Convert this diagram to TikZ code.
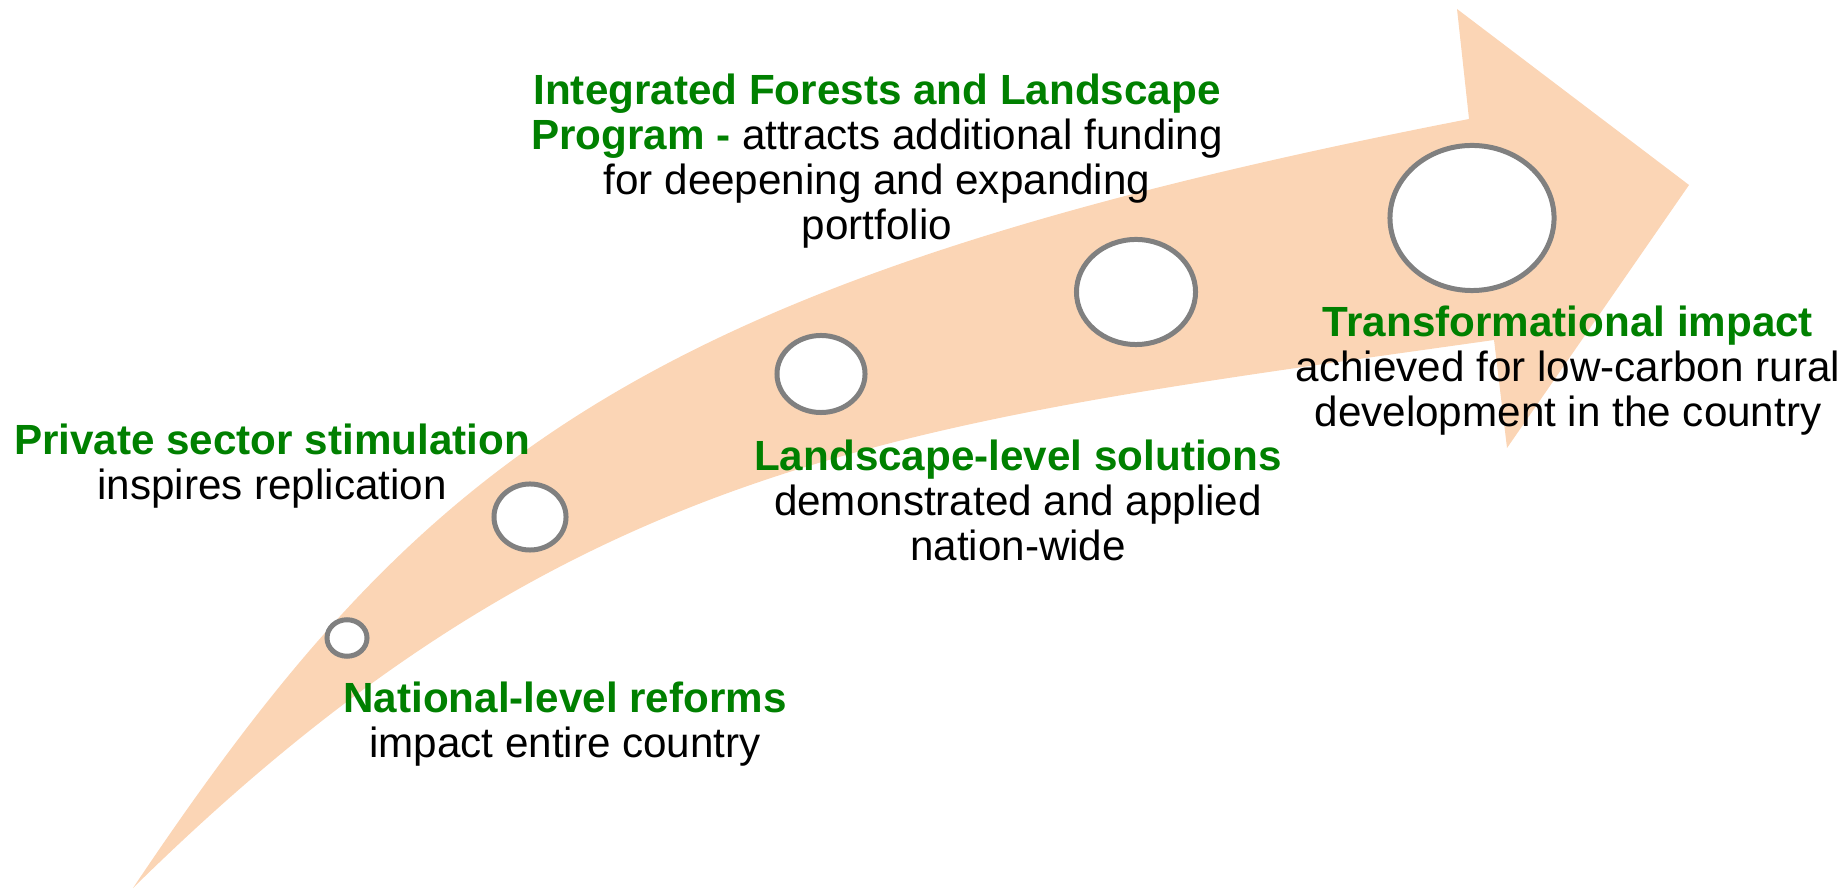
\documentclass[tikz,border=0pt]{standalone}
\usepackage{fontspec}
\setmainfont{Liberation Sans}
\usetikzlibrary{shapes.geometric}

\definecolor{peach}{HTML}{FBD5B5}
\definecolor{leafgreen}{HTML}{008000}
\definecolor{ringgray}{HTML}{808080}
\newcommand{\hl}[1]{\textcolor{leafgreen}{\textbf{#1}}}

\begin{document}
\begin{tikzpicture}[x=0.01cm, y=-0.01cm,
		lbl/.style={align=center, inner sep=0pt, anchor=base, font=\fontsize{12}{12.8}\selectfont},
		ring/.style={ellipse, draw=ringgray, fill=white, line width=1.42pt, inner sep=0pt}]

	\useasboundingbox (0,0) rectangle (1840,889);

	% curved arrow
	\fill[peach] (133,888) .. controls (420,460) and (636,281) .. (1469,119)
		-- (1457,9) -- (1689,185) -- (1507,448) -- (1494,340)
		.. controls (900,424) and (573,455) .. (133,888) -- cycle;

	% stages
	\node[ring, minimum width=0.40cm, minimum height=0.365cm] (Ring1) at (347,638) {};
	\node[ring, minimum width=0.72cm, minimum height=0.66cm] (Ring2) at (530,517) {};
	\node[ring, minimum width=0.88cm, minimum height=0.77cm] (Ring3) at (821,374) {};
	\node[ring, minimum width=1.19cm, minimum height=1.05cm] (Ring4) at (1136,292) {};
	\node[ring, minimum width=1.64cm, minimum height=1.45cm] (Ring5) at (1472,218) {};

	% labels (placed at the baseline of their last line)
	\node[lbl] (lblPrivate) at (272,500) {\hl{Private sector stimulation}\\inspires replication};
	\node[lbl] (lblNational) at (565,758) {\hl{National-level reforms}\\impact entire country};
	\node[lbl] (lblLandscape) at (1018,561) {\hl{Landscape-level solutions}\\demonstrated and applied\\nation-wide};
	\node[lbl] (lblProgram) at (877,240) {\hl{Integrated Forests and Landscape}\\\hl{Program -} attracts additional funding\\for deepening and expanding\\portfolio};
	\node[lbl] (lblImpact) at (1568,427) {\hl{Transformational impact}\\achieved for low-carbon rural\\development in the country};

\end{tikzpicture}
\end{document}
